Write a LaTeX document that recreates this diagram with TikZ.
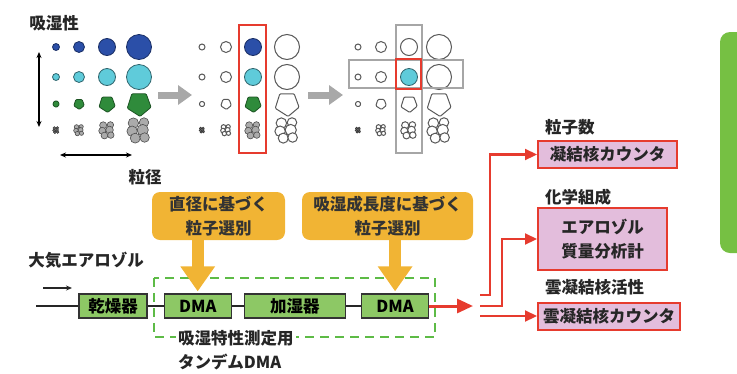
\documentclass[tikz,border=0pt]{standalone}
\usepackage{fontspec}
\setmainfont{Noto Sans CJK JP}
\usetikzlibrary{arrows.meta,positioning}

\definecolor{selorange}{HTML}{F1B434}
\definecolor{unitgreen}{HTML}{8DC865}
\definecolor{dashgreen}{HTML}{5DBB46}
\definecolor{redline}{HTML}{E63B2E}
\definecolor{pinkfill}{HTML}{E3BDDC}
\definecolor{panelgreen}{HTML}{76C043}
\definecolor{arrgray}{HTML}{A8A8A8}
\definecolor{dotblue}{HTML}{2B4FA8}
\definecolor{dotcyan}{HTML}{5FCBDA}
\definecolor{dotgreen}{HTML}{2F8B3B}
\definecolor{dotgray}{HTML}{ABABAB}

% aggregate particle: a clump of small spheres
\newcommand{\clump}[4]{%
  \begin{scope}[shift={(#1,#2)}, scale=#3]
    \foreach \dx/\dy/\rr in {-0.45/-0.55/0.42, 0.4/-0.6/0.38, -0.55/0.1/0.42,
                             0.3/0/0.45, -0.3/0.65/0.4, 0.45/0.6/0.38}
      \draw[#4] (\dx,\dy) circle[radius=\rr];
  \end{scope}}

\begin{document}
\begin{tikzpicture}[
        x=1pt, y=-1pt,
        font=\fontsize{16.5}{24}\selectfont\bfseries,
        lbl/.style={inner sep=0pt, text=black!85},
        unit/.style={draw=black!80, line width=1.2pt, fill=unitgreen, minimum height=24pt, inner sep=0pt},
        sel/.style={fill=selorange, rounded corners=8pt, align=center, minimum height=48pt, inner sep=0pt, text=black!80},
        dev/.style={draw=redline, line width=2pt, fill=pinkfill, align=center, inner sep=0pt, text=black!85},
        panel/.style={fill=panelgreen, rounded corners=10pt, minimum width=50pt, minimum height=221pt},
        link/.style={draw=black!85, line width=1.3pt},
        dim/.style={{Stealth[length=6pt,width=5pt]}-{Stealth[length=6pt,width=5pt]}, line width=1.6pt},
        grayarr/.style={arrgray, line width=7pt, -{Triangle[length=14pt,width=19pt]}},
        selarr/.style={selorange, line width=12pt, -{Triangle[length=25pt,width=33pt]}},
        outarr/.style={redline, line width=3pt, -{Triangle[length=16pt,width=14pt]}},
        redarr/.style={redline, line width=2.2pt, -{Triangle[length=12pt,width=11pt]}},
        pick/.style={draw=redline, line width=2pt},
        frame/.style={draw=gray!70, line width=1.8pt},
        tandem/.style={draw=dashgreen, line width=2.5pt, dash pattern=on 9pt off 6pt},
        bluedot/.style={draw=dotblue!60!black, fill=dotblue, line width=0.8pt},
        cyandot/.style={draw=dotcyan!50!black, fill=dotcyan, line width=0.8pt},
        greendot/.style={draw=dotgreen!60!black, fill=dotgreen, line width=0.8pt, rounded corners=1pt},
        graydot/.style={draw=black!70, fill=dotgray, line width=0.6pt},
        darkdot/.style={draw=black!80, fill=black!55, line width=0.5pt},
        wdot/.style={draw=black!65, fill=white, line width=1pt, rounded corners=1pt}
    ]
    \useasboundingbox (0,0) rectangle (737,373);

    % particle grids: size grows to the right, hygroscopicity to the top
    \foreach \x/\r/\sa/\sb/\sc/\sd in {
        56/3.5/bluedot/cyandot/greendot/darkdot, 79/5.5/bluedot/cyandot/greendot/graydot,
        107/8.5/bluedot/cyandot/greendot/graydot, 139/12.5/bluedot/cyandot/greendot/graydot,
        202/3/wdot/wdot/wdot/darkdot, 226/5.5/wdot/wdot/wdot/wdot,
        253/8.5/bluedot/cyandot/greendot/graydot, 287/12.5/wdot/wdot/wdot/wdot,
        358/3/wdot/wdot/wdot/darkdot, 381/5.5/wdot/wdot/wdot/wdot,
        409/8.5/wdot/cyandot/wdot/wdot, 439/12.5/wdot/wdot/wdot/wdot} {
      \draw[\sa] (\x,47) circle[radius=\r];
      \draw[\sb] (\x,77) circle[radius=\r];
      \draw[\sc, shift={(\x,104)}] (15:\r) -- (85:\r) -- (160:\r) -- (235:\r) -- (305:\r) -- cycle;
      \clump{\x}{130}{\r}{\sd}
    }

    \node[lbl] (hygro) at (54,23) {吸湿性};
    \node[lbl] (dsize) at (145,177) {粒径};
    \draw[dim] (39,52) -- (39,127);
    \draw[dim] (60,155) -- (132,155);

    \draw[grayarr] (158,95) -- (192,95);
    \draw[grayarr] (308,95) -- (343,95);
    \draw[pick] (239,25) rectangle (266,153);
    \draw[frame] (396,25) rectangle (422,153);
    \draw[frame] (349,60) rectangle (463,88);
    \draw[pick, line width=2.5pt] (396,59) rectangle (421,89);

    % tandem DMA line
    \node[sel, minimum width=133pt] (selsize) at (218.5,216) {直径に基づく\\粒子選別};
    \node[sel, minimum width=171pt] (selgrow) at (387.5,216) {吸湿成長度に基づく\\粒子選別};
    \node[lbl] (air) at (86,260) {大気エアロゾル};

    \draw[tandem] (154,278) rectangle (435,337);
    \node[lbl, fill=white, anchor=north west, align=left, inner sep=2pt] (tandlbl) at (176,328) {吸湿特性測定用\\タンデムDMA};

    \node[unit, minimum width=68pt] (dryer) at (113,306) {乾燥器};
    \node[unit, minimum width=67pt, right=16pt of dryer] (dma1) {DMA};
    \node[unit, minimum width=101pt, right=12pt of dma1] (humid) {加湿器};
    \node[unit, minimum width=67pt, right=15pt of humid] (dma2) {DMA};

    \coordinate (inlet) at (36,306);
    \coordinate (flow0) at (43,288);
    \coordinate (flow1) at (72,288);
    \draw[link] (inlet) -- (dryer);
    \draw[link, -{Stealth[length=6pt,width=5pt]}] (flow0) -- (flow1);
    \draw[link] (dryer) -- (dma1);
    \draw[link] (dma1) -- (humid);
    \draw[link] (humid) -- (dma2);

    \draw[selarr] (selsize.south -| dma1) -- ([yshift=2pt]dma1.north);
    \draw[selarr] (selgrow.south -| dma2) -- ([yshift=2pt]dma2.north);

    % detectors
    \coordinate (outtip) at (473,306);
    \coordinate (split) at (480,306);
    \draw[outarr] (dma2) -- (outtip);

    \node[dev, minimum width=139pt, minimum height=27pt] (cnc) at (607.5,154.5) {凝結核カウンタ};
    \node[dev, minimum width=129pt, minimum height=62pt] (ams) at (602.5,239) {エアロゾル\\質量分析計};
    \node[dev, minimum width=142pt, minimum height=27pt] (ccnc) at (609,316) {雲凝結核カウンタ};
    \node[lbl, anchor=west] (lnum) at (545,127) {粒子数};
    \node[lbl, anchor=west] (lchem) at (545,197) {化学組成};
    \node[lbl, anchor=west] (lccn) at (545,287) {雲凝結核活性};

    \draw[redarr] ([yshift=11pt]split) -- ++(10,0) |- (cnc.west);
    \draw[redarr] (split) -- ++(22,0) |- (ams.west);
    \draw[redarr] ([yshift=-10pt]split) -- (ccnc.west);

    \node[panel] (side) at (745,142.5) {};
\end{tikzpicture}
\end{document}
